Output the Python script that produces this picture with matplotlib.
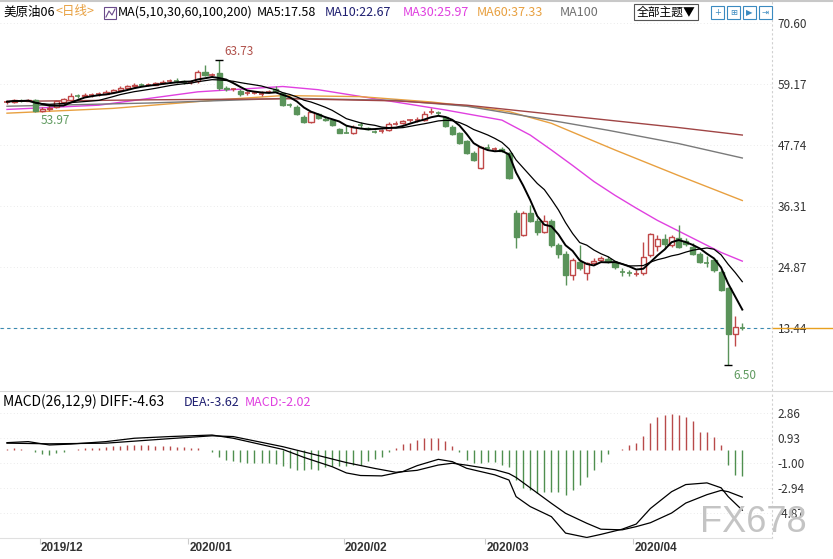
import numpy as np
import pandas as pd
import matplotlib.pyplot as plt
from matplotlib.patches import Rectangle
import matplotlib.transforms as mtransforms

plt.rcParams['font.family'] = ['Noto Sans CJK SC', 'DejaVu Sans']

# daily OHLC of the June contract, late Nov 2019 .. 22 Apr 2020
opens = [55.7, 55.8, 56.1, 56.0, 56.1, 54.2, 54.4, 54.8, 55.8, 56.2,
         57.0, 56.9, 57.1, 57.1, 57.3, 57.7, 58.0, 58.5, 58.7, 59.1,
         59.0, 59.0, 59.4, 59.6, 59.9, 59.8, 59.5, 59.7, 61.5, 60.9,
         61.2, 58.5, 58.2, 57.8, 57.4, 57.5, 57.3, 57.7, 58.2, 57.4,
         55.3, 54.9, 53.0, 52.1, 53.5, 52.7, 52.4, 50.7, 50.1, 50.0,
         51.5, 51.0, 50.3, 50.4, 50.5, 51.7, 51.8, 52.3, 52.4, 52.5,
         53.9, 53.8, 53.0, 51.2, 49.9, 48.4, 46.3, 43.5, 47.3, 47.0,
         47.0, 46.2, 35.0, 30.9, 35.0, 33.4, 31.4, 33.4, 29.0, 27.4,
         23.4, 25.9, 23.7, 25.6, 26.1, 26.4, 25.7, 23.9, 23.8, 23.5,
         23.7, 27.1, 28.9, 30.1, 29.0, 30.3, 29.8, 28.7, 27.4, 25.7,
         26.2, 24.0, 20.9, 12.4, 13.6]
highs = [56.1, 56.3, 56.4, 56.4, 56.3, 54.9, 55.0, 56.1, 56.6, 57.5,
         57.3, 57.4, 57.4, 57.6, 58.0, 58.3, 58.8, 59.0, 59.3, 59.4,
         59.3, 59.6, 59.9, 60.1, 60.2, 60.0, 60.0, 61.8, 62.7, 61.3,
         63.73, 58.7, 58.5, 58.2, 57.9, 57.8, 57.8, 58.1, 58.7, 57.6,
         55.6, 55.2, 53.4, 54.1, 53.8, 53.1, 52.7, 51.0, 51.5, 51.4,
         52.1, 51.2, 50.6, 50.8, 52.0, 52.2, 52.4, 52.7, 52.9, 54.2,
         54.6, 54.1, 53.1, 51.4, 50.1, 48.6, 46.6, 47.6, 47.9, 47.4,
         47.3, 46.5, 35.5, 35.3, 36.5, 34.0, 34.6, 33.8, 29.4, 27.8,
         26.5, 29.0, 25.9, 26.5, 27.0, 26.9, 26.0, 24.6, 24.4, 24.3,
         29.6, 31.3, 30.9, 31.0, 30.8, 32.7, 30.4, 29.3, 27.7, 26.9,
         26.5, 24.3, 21.2, 15.6, 14.3]
lows = [55.5, 55.6, 55.8, 55.9, 53.97, 54.0, 54.2, 54.6, 55.6, 56.0,
        56.6, 56.7, 56.8, 56.9, 57.2, 57.5, 57.9, 58.3, 58.5, 58.7,
        58.7, 58.9, 59.2, 59.4, 59.4, 59.2, 59.2, 59.3, 60.7, 60.6,
        58.0, 57.9, 57.8, 57.0, 57.1, 57.2, 57.0, 57.4, 57.6, 55.0,
        54.8, 53.3, 51.9, 51.9, 52.6, 52.2, 51.3, 49.9, 49.9, 49.8,
        51.0, 50.6, 50.0, 50.0, 50.3, 51.5, 51.6, 52.1, 52.0, 52.3,
        53.6, 53.3, 51.2, 49.6, 48.0, 46.0, 44.7, 43.3, 46.9, 46.7,
        46.4, 41.3, 28.4, 30.7, 33.3, 30.9, 31.2, 28.7, 26.5, 21.5,
        22.4, 24.3, 22.4, 25.3, 25.8, 25.6, 24.5, 23.2, 23.1, 23.2,
        23.4, 26.8, 27.8, 28.2, 28.6, 28.4, 28.9, 27.2, 25.6, 24.9,
        24.0, 20.3, 6.50, 10.0, 13.1]
closes = [55.85, 56.1, 56.0, 56.2, 54.2, 54.5, 54.7, 55.9, 56.3, 57.0,
          56.9, 57.1, 57.1, 57.3, 57.7, 58.0, 58.5, 58.7, 59.0, 59.0,
          59.0, 59.3, 59.6, 59.8, 59.7, 59.5, 59.6, 61.5, 60.9, 60.9,
          58.5, 58.2, 58.2, 57.3, 57.5, 57.5, 57.4, 57.8, 57.8, 55.2,
          55.2, 53.5, 52.1, 53.9, 52.8, 52.5, 51.5, 50.0, 50.0, 51.2,
          51.4, 50.8, 50.2, 50.5, 51.7, 51.8, 52.3, 52.4, 52.5, 53.5,
          54.0, 53.6, 51.3, 49.8, 48.2, 46.2, 44.9, 47.4, 47.2, 47.1,
          46.6, 41.5, 30.5, 35.05, 33.5, 31.5, 33.4, 29.0, 27.4, 23.4,
          26.2, 24.6, 25.6, 26.0, 26.5, 26.0, 24.9, 23.8, 23.7, 23.6,
          26.7, 31.1, 30.1, 29.2, 30.5, 28.7, 29.2, 27.4, 25.9, 25.6,
          24.3, 20.6, 12.4, 13.7, 13.44]

# long averages (their history starts before the window)
ma30_idx = [0, 13, 27, 39, 44, 53, 62, 70, 74, 77, 80, 83, 86, 89, 92, 95, 98, 101, 104]
ma30_val = [54.4, 55.2, 57.7, 58.7, 58.1, 56.2, 54.3, 52.4, 49.6, 46.8, 43.9, 40.9,
            38.3, 35.9, 33.6, 31.6, 29.6, 27.6, 25.97]
ma60_idx = [0, 15, 30, 39, 50, 60, 66, 71, 77, 86, 95, 104]
ma60_val = [53.7, 54.6, 56.2, 57.0, 56.8, 55.8, 54.9, 54.0, 51.8, 46.8, 42.0, 37.33]
ma100_idx = [0, 20, 40, 55, 65, 75, 85, 95, 104]
ma100_val = [55.0, 55.6, 56.5, 56.1, 55.0, 52.8, 50.5, 48.0, 45.3]
ma200_idx = [0, 20, 40, 55, 65, 75, 85, 95, 104]
ma200_val = [55.9, 56.2, 56.4, 56.0, 55.2, 53.8, 52.4, 51.0, 49.6]

macd_hist = [0.10, 0.15, 0.10, 0.05, -0.15, -0.30, -0.35, -0.20, -0.10, 0.05,
             0.10, 0.15, 0.15, 0.20, 0.25, 0.30, 0.35, 0.38, 0.40, 0.38,
             0.38, 0.35, 0.32, 0.30, 0.25, 0.22, 0.20, 0.18, 0.05, -0.10,
             -0.55, -0.75, -0.85, -0.90, -0.95, -0.95, -1.00, -1.00, -1.05, -1.20,
             -1.40, -1.50, -1.50, -1.45, -1.50, -1.30, -1.25, -1.25, -1.20, -1.15,
             -1.10, -0.80, -0.65, -0.50, -0.10, 0.20, 0.50, 0.55, 0.80, 0.97,
             0.97, 0.97, 0.70, 0.30, -0.15, -0.75, -1.00, -1.00, -0.90, -0.90,
             -1.10, -1.26, -2.30, -2.94, -3.07, -3.30, -3.20, -3.20, -3.20, -3.46,
             -3.07, -2.68, -2.04, -1.52, -0.88, -0.28, 0.02, 0.10, 0.44, 0.57,
             1.10, 2.10, 2.60, 2.75, 2.83, 2.75, 2.60, 2.30, 1.45, 1.40,
             1.00, 0.37, -1.10, -1.90, -2.02]
diff_idx = [0, 3, 6, 9, 14, 18, 23, 29, 32, 39, 42, 46, 48, 50, 53, 56, 58, 61, 63,
            65, 69, 71, 72, 74, 77, 79, 82, 84, 87, 89, 91, 94, 96, 99, 101, 102, 104]
diff_val = [0.59, 0.67, 0.41, 0.48, 0.67, 0.93, 1.06, 1.18, 0.93, 0.07, -0.55, -1.27,
            -1.75, -1.95, -1.98, -1.64, -1.19, -0.70, -0.88, -1.39, -1.90, -2.30,
            -3.58, -4.35, -5.13, -6.40, -6.74, -6.50, -6.10, -5.70, -4.50, -3.20,
            -2.65, -2.52, -2.90, -3.58, -4.63]
dea_idx = [0, 6, 14, 23, 29, 32, 39, 44, 48, 52, 55, 58, 61, 63, 65, 69, 71, 72,
           74, 77, 79, 82, 84, 87, 89, 91, 94, 96, 99, 101, 102, 104]
dea_val = [0.55, 0.50, 0.55, 0.90, 1.12, 1.06, 0.28, -0.40, -0.95, -1.40, -1.70,
           -1.55, -1.14, -1.00, -1.15, -1.50, -1.80, -2.10, -2.90, -4.10, -4.87,
           -5.64, -6.10, -6.15, -5.90, -5.60, -4.85, -4.08, -3.43, -3.10, -3.20, -3.62]

month_labels = ['2019/12', '2020/01', '2020/02', '2020/03', '2020/04']
month_start = [5, 26, 48, 68, 89]
price_ticks = [70.60, 59.17, 47.74, 36.31, 24.87, 13.44]
macd_ticks = [2.86, 0.93, -1.00, -2.94, -4.87]
last_price = 13.44

W, H = 833, 559
fig = plt.figure(figsize=(W / 100, H / 100), dpi=100)


def px_axes(x0, y0, x1, y1):
    return fig.add_axes([x0 / W, 1 - y1 / H, (x1 - x0) / W, (y1 - y0) / H])


def ftext(x, y, s, **kw):
    kw.setdefault('ha', 'left')
    return fig.text(x / W, 1 - y / H, s, va='center', **kw)


up_col = '#c04848'
dn_col = '#5a935a'
n = len(closes)
idx = np.arange(n)
xlim = (-0.99, 108.2)

# ---------- price panel ----------
ax = px_axes(0, 0, 772, 390)
ax.set_xlim(*xlim)
ax.set_ylim(1.82, 74.91)

for i in range(n):
    o, h, l, c = opens[i], highs[i], lows[i], closes[i]
    col = up_col if c >= o else dn_col
    ax.vlines(i, l, h, color=col, lw=1, zorder=3)
    bot, top = min(o, c), max(o, c)
    if top - bot < 0.2:
        ax.hlines((o + c) / 2, i - 0.36, i + 0.36, color=col, lw=1.2, zorder=4)
    else:
        ax.add_patch(Rectangle((i - 0.36, bot), 0.72, top - bot,
                               facecolor='white' if c >= o else col,
                               edgecolor=col, lw=1, zorder=4))

s = pd.Series(closes)
ax.plot(idx, s.rolling(5, min_periods=1).mean(), color='black', lw=1.4, zorder=5)
ax.plot(idx, s.rolling(10, min_periods=1).mean(), color='black', lw=0.9, zorder=5)
ax.plot(ma30_idx, ma30_val, color='#e040e0', lw=1, zorder=2)
ax.plot(ma60_idx, ma60_val, color='#e8a040', lw=1, zorder=2)
ax.plot(ma100_idx, ma100_val, color='#7a7a7a', lw=1, zorder=2)
ax.plot(ma200_idx, ma200_val, color='#a04545', lw=1, zorder=2)

# extremes
hi_i = int(np.argmax(highs))
lo_i = int(np.argmin(lows))
ax.hlines(highs[hi_i], hi_i - 0.6, hi_i + 0.6, color='black', lw=1, zorder=6)
ax.hlines(lows[lo_i], lo_i - 0.6, lo_i + 0.6, color='black', lw=1, zorder=6)
ax.annotate(f'{highs[hi_i]:.2f}', (hi_i, highs[hi_i]), xytext=(5, 8),
            textcoords='offset pixels', color='#b0504a', fontsize=8.5, va='center')
ax.annotate(f'{lows[4]:.2f}', (4, lows[4]), xytext=(5, -9),
            textcoords='offset pixels', color='#5f9a5f', fontsize=8.5, va='center')
ax.annotate(f'{lows[lo_i]:.2f}', (lo_i, lows[lo_i]), xytext=(5, -10),
            textcoords='offset pixels', color='#5f9a5f', fontsize=8.5, va='center')

ax.axhline(last_price, color='#3a8ab0', lw=0.8, ls=(0, (3, 3)), zorder=1)
ax.plot([1.0, W / 772], [last_price, last_price], color='#e8a020', lw=1,
        transform=ax.get_yaxis_transform(), clip_on=False)

ax.set_yticks(price_ticks)
ax.set_yticklabels([f'{t:.2f}' for t in price_ticks])
for t in price_ticks:
    ax.axhline(t, color='#e4e4e4', lw=0.6, ls=(0, (1, 3)), zorder=0)

# ---------- MACD panel ----------
axm = px_axes(0, 392, 772, 538)
axm.set_xlim(*xlim)
axm.set_ylim(-6.78, 4.505)
hist = np.array(macd_hist)
axm.vlines(idx[hist >= 0], 0, hist[hist >= 0], color='#b84a4a', lw=1)
axm.vlines(idx[hist < 0], 0, hist[hist < 0], color='#4f8f4f', lw=1)
axm.plot(diff_idx, diff_val, color='black', lw=0.9)
axm.plot(dea_idx, dea_val, color='black', lw=0.9)
axm.set_yticks(macd_ticks)
axm.set_yticklabels([f'{t:.2f}' for t in macd_ticks])
for t in macd_ticks:
    axm.axhline(t, color='#e4e4e4', lw=0.6, ls=(0, (1, 3)), zorder=0)

# months
axm.set_xticks([m - 0.4 for m in month_start])
axm.set_xticklabels([])
axm.tick_params(axis='x', length=4, color='#cccccc', direction='out')
tr = mtransforms.blended_transform_factory(axm.transData, axm.transAxes)
for m, lab in zip(month_start, month_labels):
    axm.text(m - 0.2, -0.068, lab, transform=tr, ha='left', va='center',
             fontsize=8.5, fontweight='bold', color='#333333', family='Liberation Sans')

for a in (ax, axm):
    a.yaxis.tick_right()
    a.tick_params(axis='y', length=0, pad=4, labelsize=8.5, labelcolor='#333333')
    for sp in ('top', 'left', 'bottom'):
        a.spines[sp].set_visible(False)
    a.spines['right'].set_color('#d0d0d0')
    a.spines['right'].set_linestyle((0, (1, 3)))
ax.set_xticks([])
axm.spines['bottom'].set_visible(True)
axm.spines['bottom'].set_color('#e0e0e0')

fig.add_artist(plt.Line2D([0, 1], [1 - 391 / H, 1 - 391 / H], color='#d8d8d8', lw=0.8))
fig.add_artist(plt.Line2D([0, 1], [1 - 0.5 / H, 1 - 0.5 / H], color='#c8c8c8', lw=1.5))

# ---------- header texts ----------
fs = 9
ftext(3, 12, '美原油06', fontsize=fs, color='black')
ftext(55, 12, '<日线>', fontsize=fs, color='#e8a040')
fig.add_artist(Rectangle((104 / W, 1 - 19 / H), 12 / W, 12 / H, fill=False,
                         ec='#6a4a8a', lw=0.8, transform=fig.transFigure))
fig.add_artist(plt.Line2D([106 / W, 109 / W, 112 / W, 115 / W],
                          [1 - 17 / H, 1 - 11 / H, 1 - 15 / H, 1 - 9 / H],
                          color='#6a4a8a', lw=0.8))
ftext(118, 12, 'MA(5,10,30,60,100,200)', fontsize=fs, color='black')
ftext(257, 12, 'MA5:17.58', fontsize=fs, color='black')
ftext(325, 12, 'MA10:22.67', fontsize=fs, color='#1e1e70')
ftext(403, 12, 'MA30:25.97', fontsize=fs, color='#e040e0')
ftext(477, 12, 'MA60:37.33', fontsize=fs, color='#e8a040')
ftext(560, 12, 'MA100', fontsize=fs, color='#707070')

fig.add_artist(Rectangle((634 / W, 1 - 20 / H), 64 / W, 16 / H, fc='white',
                         ec='#555555', lw=0.8, transform=fig.transFigure))
ftext(666, 12, '全部主题▼', fontsize=8.5, color='black', ha='center')
for k, sym in enumerate(['+', '⊞', '▶', '⇥']):
    x0 = 711 + 16 * k
    fig.add_artist(Rectangle((x0 / W, 1 - 19 / H), 13 / W, 13 / H, fc='white',
                             ec='#3a8ac0', lw=0.8, transform=fig.transFigure))
    ftext(x0 + 6.5, 12.5, sym, fontsize=6, color='#3a8ac0', ha='center',
          family='DejaVu Sans')

ftext(3, 402, 'MACD(26,12,9) DIFF:-4.63', fontsize=10, color='black')
ftext(184, 402, 'DEA:-3.62', fontsize=9, color='#1e1e70')
ftext(245, 402, 'MACD:-2.02', fontsize=9, color='#e040e0')

ftext(753, 523, 'FX678', fontsize=26, color='#c4c4c4', ha='center',
      family='Liberation Sans', zorder=10)

fig.savefig('out.png', dpi=100, facecolor='white')
